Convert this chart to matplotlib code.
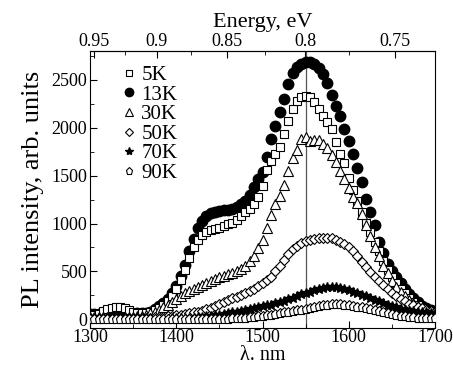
import numpy as np
import matplotlib
matplotlib.use('Agg')
import matplotlib.pyplot as plt
from matplotlib.ticker import MultipleLocator, FixedLocator

plt.rcParams['font.family'] = ['Liberation Serif', 'DejaVu Serif']
plt.rcParams['font.size'] = 13

# wavelength grid, nm (5 nm step)
wl = np.arange(1300, 1701, 5)

# PL spectra, arb. units
i_5K = [40, 45, 60, 85, 105, 120, 125, 125, 115, 95,
        75, 65, 62, 65, 75, 95, 120, 150, 190, 245,
        320, 410, 520, 640, 750, 830, 880, 910, 930, 945,
        955, 970, 990, 1010, 1040, 1080, 1120, 1150, 1200, 1280,
        1390, 1560, 1650, 1730, 1800, 1930, 2070, 2190, 2280, 2320,
        2330, 2320, 2270, 2190, 2120, 2060, 1990, 1850, 1730, 1630,
        1480, 1350, 1230, 1120, 1010, 910, 810, 710, 610, 520,
        440, 380, 320, 270, 220, 180, 150, 120, 100, 85, 70]
i_13K = [55, 55, 55, 55, 55, 58, 60, 60, 60, 60,
         60, 62, 65, 70, 80, 110, 140, 170, 210, 270,
         350, 450, 570, 710, 840, 950, 1030, 1080, 1110, 1125,
         1135, 1140, 1145, 1155, 1170, 1200, 1240, 1300, 1380, 1460,
         1540, 1690, 1880, 2020, 2160, 2300, 2460, 2570, 2630, 2665,
         2690, 2690, 2665, 2620, 2560, 2470, 2340, 2230, 2120, 1990,
         1860, 1730, 1580, 1430, 1260, 1120, 980, 810, 690, 580,
         500, 440, 380, 320, 265, 220, 180, 140, 115, 95, 80]
i_30K = [20, 20, 20, 20, 20, 22, 22, 22, 24, 25,
         28, 32, 38, 48, 62, 80, 100, 125, 155, 185,
         215, 245, 270, 295, 320, 340, 360, 380, 400, 420,
         440, 455, 470, 485, 500, 525, 560, 605, 660, 740,
         830, 950, 1090, 1200, 1290, 1400, 1550, 1680, 1770, 1880,
         1900, 1860, 1870, 1870, 1830, 1786, 1720, 1640, 1550, 1460,
         1370, 1280, 1210, 1100, 980, 870, 760, 660, 560, 480,
         400, 340, 290, 240, 200, 170, 140, 120, 100, 85, 70]
i_50K = [10, 10, 10, 10, 10, 10, 10, 10, 10, 10,
         12, 12, 14, 15, 17, 20, 22, 25, 30, 35,
         42, 50, 58, 66, 74, 82, 92, 105, 120, 140,
         160, 180, 200, 218, 235, 255, 275, 295, 315, 345,
         380, 410, 445, 500, 560, 620, 680, 730, 770, 795,
         815, 830, 840, 848, 850, 850, 845, 830, 810, 785,
         755, 710, 660, 600, 545, 490, 440, 400, 360, 320,
         280, 245, 215, 190, 165, 145, 130, 115, 100, 90, 80]
i_70K = [5, 5, 5, 5, 5, 5, 5, 5, 5, 5,
         5, 6, 6, 7, 7, 8, 8, 9, 9, 10,
         10, 12, 14, 16, 18, 21, 25, 30, 35, 42,
         50, 57, 65, 72, 80, 88, 95, 105, 115, 125,
         135, 145, 155, 168, 180, 195, 210, 228, 245, 260,
         275, 290, 305, 318, 330, 338, 340, 336, 330, 318,
         305, 290, 275, 258, 240, 222, 205, 188, 170, 155,
         140, 126, 112, 102, 92, 86, 80, 76, 72, 68, 65]
i_90K = [0, 0, 0, 0, 0, 0, 0, 0, 0, 0,
         0, 0, 0, 0, 0, 0, 0, 0, 0, 0,
         0, 0, 1, 1, 2, 2, 3, 3, 4, 4,
         5, 6, 8, 10, 12, 15, 18, 22, 26, 30,
         35, 42, 50, 58, 65, 72, 80, 88, 95, 102,
         110, 120, 130, 140, 150, 155, 160, 160, 160, 155,
         150, 143, 133, 125, 115, 106, 98, 88, 78, 68,
         58, 50, 40, 33, 27, 22, 18, 15, 12, 10, 10]

fig = plt.figure(figsize=(4.53, 3.65), dpi=100)
ax = fig.add_axes([0.1987, 0.1014, 0.7616, 0.7589])

ax.axvline(1550, color='#555555', lw=0.9, zorder=1)

ax.plot(wl, i_13K, 'o', ms=7.5, mfc='black', mec='black', label='13K', zorder=2)
ax.plot(wl, i_5K, 's', ms=6, mfc='white', mec='black', mew=0.8, label='5K', zorder=3)
ax.plot(wl, i_30K, '^', ms=7, mfc='white', mec='black', mew=0.8, label='30K', zorder=3)
ax.plot(wl, i_50K, 'D', ms=5.5, mfc='white', mec='black', mew=0.8, label='50K', zorder=3)
ax.plot(wl, i_70K, '*', ms=7.5, mfc='black', mec='black', label='70K', zorder=4)
ax.plot(wl, i_90K, 'p', ms=6.5, mfc='white', mec='black', mew=0.8, label='90K', zorder=4)

ax.set_xlim(1300, 1700)
ax.set_ylim(-90, 2800)
ax.xaxis.set_major_locator(MultipleLocator(100))
ax.xaxis.set_minor_locator(MultipleLocator(50))
ax.yaxis.set_major_locator(MultipleLocator(500))
ax.yaxis.set_minor_locator(MultipleLocator(250))
ax.tick_params(which='both', direction='in', top=False, right=False)
ax.tick_params(which='major', length=5, pad=2)
ax.tick_params(axis='x', which='major', pad=1)
ax.tick_params(which='minor', length=3)
ax.set_xlabel('λ. nm', fontsize=14.5, labelpad=0)
ax.set_ylabel('PL intensity, arb. units', fontsize=19, labelpad=5)

sec = ax.secondary_xaxis('top', functions=(lambda x: 1239.84 / x, lambda e: 1239.84 / e))
sec.xaxis.set_major_locator(FixedLocator([0.95, 0.9, 0.85, 0.8, 0.75]))
sec.xaxis.set_minor_locator(FixedLocator([0.925, 0.875, 0.825, 0.775]))
sec.set_xticklabels(['0.95', '0.9', '0.85', '0.8', '0.75'])
sec.tick_params(which='both', direction='in')
sec.tick_params(which='major', length=5, pad=1)
sec.tick_params(which='minor', length=3)
sec.set_xlabel('Energy, eV', fontsize=16, labelpad=4)

handles, labels = ax.get_legend_handles_labels()
order = [1, 0, 2, 3, 4, 5]
ax.legend([handles[k] for k in order], [labels[k] for k in order],
          loc='upper left', bbox_to_anchor=(0.055, 1.0), frameon=False,
          fontsize=15, handlelength=0.5, handletextpad=0.35,
          labelspacing=0.0, borderpad=0.2, markerscale=0.8)

fig.savefig('out.png', dpi=100)
